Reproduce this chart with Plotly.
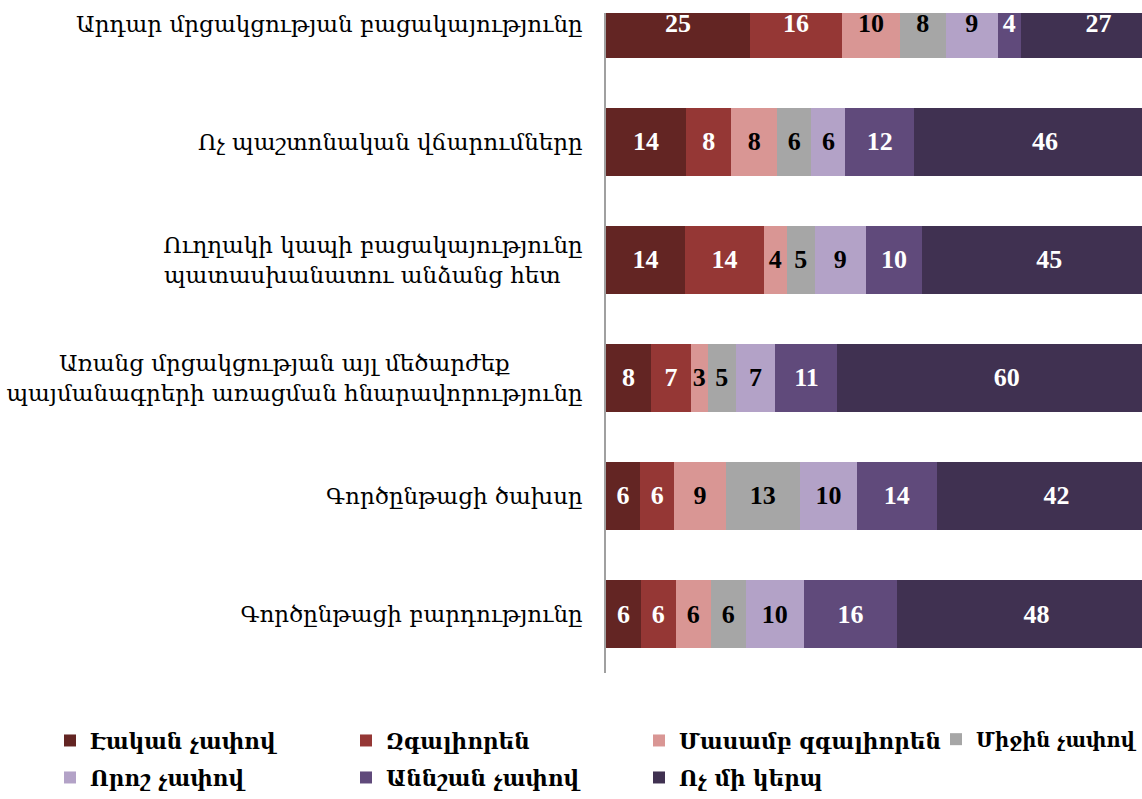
import plotly.graph_objects as go

NB = "\u00a0"
categories = [
    "Արդար մրցակցության բացակայությունը",
    "Ոչ պաշտոնական վճարումները",
    "Ուղղակի կապի բացակայությունը<br>պատասխանատու անձանց հետ" + NB * 3,
    "Առանց մրցակցության այլ մեծարժեք" + NB * 10 + "<br>պայմանագրերի առացման հնարավորությունը",
    "Գործընթացի ծախսը",
    "Գործընթացի բարդությունը",
]
series_names = ["Էական չափով", "Զգալիորեն", "Մասամբ զգալիորեն", "Միջին չափով",
                "Որոշ չափով", "Աննշան չափով", "Ոչ մի կերպ"]
values = [
    [25, 14, 14, 8, 6, 6],
    [16, 8, 14, 7, 6, 6],
    [10, 8, 4, 3, 9, 6],
    [8, 6, 5, 5, 13, 6],
    [9, 6, 9, 7, 10, 10],
    [4, 12, 10, 11, 14, 16],
    [27, 46, 45, 60, 42, 48],
]
colors = ["#632523", "#953735", "#D99694", "#A6A6A6", "#B3A2C7", "#604A7B", "#403151"]
label_colors = ["white", "white", "black", "black", "black", "white", "white"]

# 100% stacked: normalise each category to its row total
row_totals = [sum(v[j] for v in values) for j in range(len(categories))]
shares = [[v[j] / row_totals[j] * 100 for j in range(len(categories))] for v in values]

W, H = 1142, 799
fig = go.Figure()
legend_pos = [(50, 720), (346, 720), (639, 720), (936, 720),
              (50, 757), (346, 757), (639, 757)]
legend_font_sizes = [21.5, 21.5, 21.5, 19.5, 21.5, 21.5, 21.5]
for i, name in enumerate(series_names):
    lg = "legend" if i == 0 else f"legend{i+1}"
    fig.add_trace(go.Bar(
        y=categories, x=shares[i], name=name, orientation="h",
        marker=dict(color=colors[i], line=dict(width=0)),
        text=values[i], texttemplate="%{text}", textposition="inside",
        insidetextanchor="middle", constraintext="none", textangle=0,
        insidetextfont=dict(family="Liberation Serif", size=26, color=label_colors[i], weight="bold"),
        legend=lg, hoverinfo="skip",
    ))

layout_legends = {}
for i, (lx, ly) in enumerate(legend_pos):
    key = "legend" if i == 0 else f"legend{i+1}"
    layout_legends[key] = dict(
        x=lx / W, y=1 - ly / H, xref="container", yref="container",
        xanchor="left", yanchor="top", bgcolor="rgba(0,0,0,0)",
        font=dict(family="DejaVu Serif", size=legend_font_sizes[i], color="black", weight="bold"),
        itemclick=False, itemdoubleclick=False,
    )

fig.update_layout(
    width=W, height=H,
    barmode="stack", bargap=0.43,
    margin=dict(l=606, r=0, t=13, b=126, autoexpand=False),
    plot_bgcolor="white", paper_bgcolor="white",
    showlegend=True,
    xaxis=dict(range=[0, 94], visible=False, fixedrange=True),
    yaxis=dict(
        range=[5.5, -0.093], showline=True, linecolor="#A0A0A0", linewidth=1.5,
        showgrid=False, zeroline=False, ticks="", ticklabelstandoff=17,
        tickfont=dict(family="DejaVu Serif", size=23, color="black"),
        fixedrange=True,
    ),
    **layout_legends,
)

fig.write_html("out.html", config={"displayModeBar": False},
               post_script="document.body.style.margin='0';document.body.style.overflow='hidden';")
